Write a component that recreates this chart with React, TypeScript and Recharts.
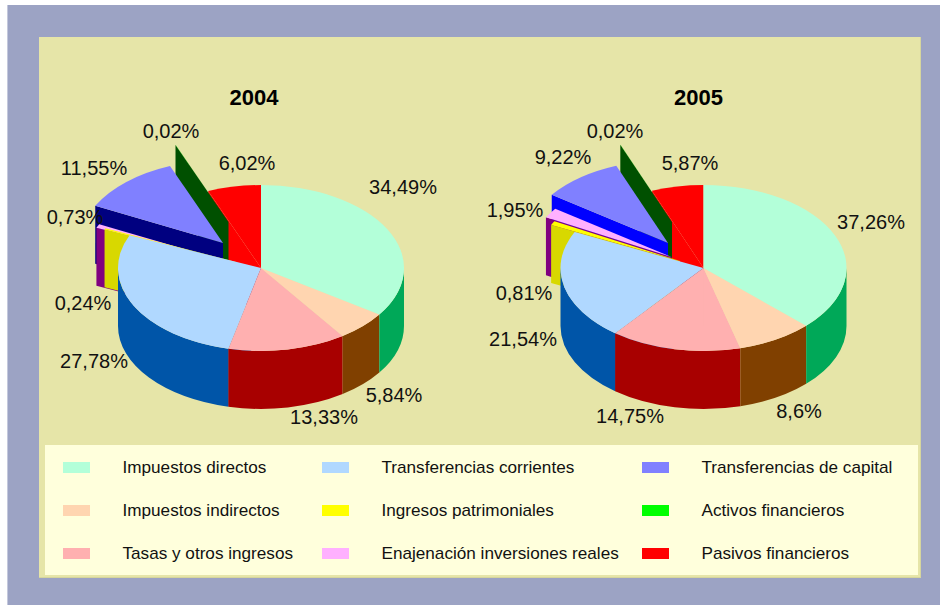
import { Legend, Pie, PieChart } from "recharts";

const categories = [
  "Impuestos directos",
  "Impuestos indirectos",
  "Tasas y otros ingresos",
  "Transferencias corrientes",
  "Ingresos patrimoniales",
  "Enajenación inversiones reales",
  "Transferencias de capital",
  "Activos financieros",
  "Pasivos financieros",
];

const values2004 = [34.49, 5.84, 13.33, 27.78, 0.24, 0.73, 11.55, 0.02, 6.02];
const values2005 = [37.26, 8.6, 14.75, 21.54, 0.81, 1.95, 9.22, 0.02, 5.87];

const topColors = ["#B3FFD9", "#FFD5B0", "#FFB0B0", "#B0D8FF", "#FFFF00", "#FFB0FF", "#8080FF", "#00FF00", "#FF0000"];
const sideColors2004 = ["#00A858", "#804000", "#A80000", "#0055A8", "#D8D800", "#800080", "#000080", "#005000", "#FF0000"];
const sideColors2005 = ["#00A858", "#804000", "#A80000", "#0055A8", "#D8D800", "#800080", "#0000FF", "#005000", "#FF0000"];

// how far each slice is pulled out of the pie, in pixels
const pull2004 = [[0, 0], [0, 0], [0, 0], [0, 0], [-25, -6], [-34, -6.5], [-38, -25], [-32.5, -46], [0, 0]];
const pull2005 = [[0, 0], [0, 0], [0, 0], [0, 0], [-23.5, -7], [-32, -11], [-35.5, -25], [-31.5, -46], [0, 0]];

const labelPos2004 = [[403, 187], [394, 395], [324, 417], [94, 361], [83, 303], [75, 217], [94, 168], [171, 131], [247, 163]];
const labelPos2005 = [[871, 222], [799, 411], [630, 416], [523, 339], [524, 293], [515, 210], [563, 157], [615, 131], [690, 163]];

// legend is laid out in three columns, top to bottom
const legendOrder = [0, 3, 6, 1, 4, 7, 2, 5, 8];
const legendColX = [18, 277, 597];
const legendRowY = [17, 60, 103];

const tilt = 0.58;
const depth = 58;

// painted back to front, so the order is reversed and the pie runs counter-clockwise
const buildRows = (values: number[]) =>
  categories.map((name, i) => ({ name, value: values[i] })).reverse();

const rad = (deg: number) => (deg * Math.PI) / 180;

function makeSlice(sideColors: string[], pull: number[][]) {
  return function Slice3D(props: any) {
    const { cx, cy, outerRadius: r, startAngle, endAngle, name } = props;
    const i = categories.indexOf(name);
    const ox = cx + pull[i][0];
    const oy = cy + pull[i][1];
    const ry = r * tilt;
    const pt = (a: number) => [ox + r * Math.cos(rad(a)), oy - ry * Math.sin(rad(a))];

    const [x0, y0] = pt(startAngle);
    const [x1, y1] = pt(endAngle);
    const large = endAngle - startAngle > 180 ? 1 : 0;
    const top = `M${ox},${oy} L${x0},${y0} A${r},${ry} 0 ${large} 0 ${x1},${y1} Z`;

    // radial face on the far end, only when it looks towards the viewer
    const face =
      Math.cos(rad(endAngle)) < 0
        ? `M${ox},${oy} L${x1},${y1} L${x1},${y1 + depth} L${ox},${oy + depth} Z`
        : null;

    // outer wall: only the part of the arc in the front half
    const walls: string[] = [];
    for (const [lo, hi] of [[180, 360], [540, 720]]) {
      const a = Math.max(startAngle, lo);
      const b = Math.min(endAngle, hi);
      if (b > a) {
        const [ax, ay] = pt(a);
        const [bx, by] = pt(b);
        walls.push(
          `M${ax},${ay} A${r},${ry} 0 0 0 ${bx},${by} L${bx},${by + depth} A${r},${ry} 0 0 1 ${ax},${ay + depth} Z`,
        );
      }
    }

    return (
      <g>
        {face && <path d={face} fill={sideColors[i]} />}
        {walls.map((d) => (
          <path key={d} d={d} fill={sideColors[i]} />
        ))}
        <path d={top} fill={topColors[i]} />
      </g>
    );
  };
}

function makeLabel(positions: number[][]) {
  return function SliceLabel(props: any) {
    const [x, y] = positions[categories.indexOf(props.name)];
    return (
      <text x={x} y={y + 7} textAnchor="middle" fontSize={20} fontFamily="Liberation Sans" fill="#111">
        {`${String(props.value).replace(".", ",")}%`}
      </text>
    );
  };
}

function LegendBox() {
  return (
    <div style={{ position: "relative", width: 873, height: 130, background: "#FFFFDC", fontFamily: "Liberation Sans", fontSize: 17.15, color: "#111" }}>
      {legendOrder.map((c, n) => {
        const col = n % 3;
        const row = Math.floor(n / 3);
        const cellTop = legendRowY[row];
        return (
          <div key={categories[c]}>
            <div style={{ position: "absolute", left: legendColX[col], top: cellTop, width: 27, height: 11, background: topColors[c] }} />
            <div style={{ position: "absolute", left: legendColX[col] + 59.5, top: cellTop - 6.5, lineHeight: "22px", whiteSpace: "nowrap" }}>
              {categories[c]}
            </div>
          </div>
        );
      })}
    </div>
  );
}

export default function App() {
  return (
    <div style={{ position: "absolute", left: 0, top: 0, width: 940, height: 605, overflow: "hidden", background: "#fff" }}>
      <div style={{ position: "absolute", left: 7, top: 5, right: 0, bottom: 0, background: "#9CA3C4", borderLeft: "1px solid #C4C8DC", boxSizing: "border-box" }} />
      <div style={{ position: "absolute", left: 39, top: 37, width: 882, height: 541, background: "#E6E5A8", borderRight: "1px solid #D6D69E", borderBottom: "1px solid #D6D69E", boxSizing: "border-box" }} />
      <div style={{ position: "absolute", left: 0, top: 0 }}>
        <PieChart width={940} height={605} margin={{ top: 0, right: 0, bottom: 0, left: 0 }}>
          <text x={254} y={105} textAnchor="middle" fontSize={22} fontWeight="bold" fontFamily="Liberation Sans" fill="#000">
            2004
          </text>
          <text x={698.5} y={105} textAnchor="middle" fontSize={22} fontWeight="bold" fontFamily="Liberation Sans" fill="#000">
            2005
          </text>
          <Pie
            data={buildRows(values2004)}
            dataKey="value"
            nameKey="name"
            cx={261}
            cy={268}
            outerRadius={143}
            startAngle={90}
            endAngle={450}
            shape={makeSlice(sideColors2004, pull2004)}
            label={makeLabel(labelPos2004)}
            labelLine={false}
            isAnimationActive={false}
          />
          <Pie
            data={buildRows(values2005)}
            dataKey="value"
            nameKey="name"
            cx={703.5}
            cy={268}
            outerRadius={143}
            startAngle={90}
            endAngle={450}
            shape={makeSlice(sideColors2005, pull2005)}
            label={makeLabel(labelPos2005)}
            labelLine={false}
            isAnimationActive={false}
          />
          <Legend content={<LegendBox />} wrapperStyle={{ position: "absolute", left: 45, top: 445, width: 873, height: 130 }} />
        </PieChart>
      </div>
    </div>
  );
}
